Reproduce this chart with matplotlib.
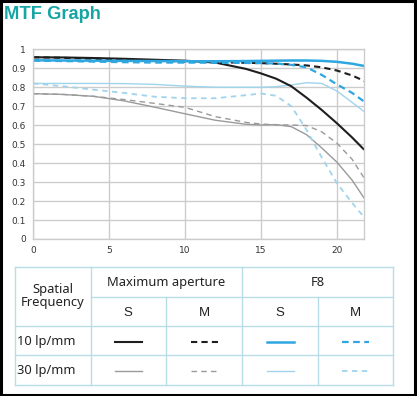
import matplotlib
matplotlib.use("Agg")
import matplotlib.pyplot as plt
from matplotlib.lines import Line2D
from matplotlib.patches import Rectangle

# ---------------- data ----------------
x_mm = [0, 2, 4, 6, 8, 10, 12, 14, 15, 16, 17, 18, 19, 20, 21, 21.8]

max_s10 = [0.958, 0.957, 0.954, 0.950, 0.945, 0.940, 0.930, 0.897, 0.873, 0.845, 0.805, 0.745, 0.680, 0.610, 0.535, 0.470]
max_m10 = [0.958, 0.955, 0.950, 0.945, 0.940, 0.935, 0.932, 0.929, 0.927, 0.924, 0.920, 0.915, 0.905, 0.888, 0.862, 0.833]
f8_s10 = [0.942, 0.941, 0.940, 0.939, 0.938, 0.937, 0.937, 0.938, 0.939, 0.940, 0.941, 0.941, 0.939, 0.934, 0.924, 0.912]
f8_m10 = [0.940, 0.938, 0.935, 0.932, 0.930, 0.930, 0.929, 0.928, 0.927, 0.925, 0.918, 0.905, 0.865, 0.815, 0.770, 0.724]

max_s30 = [0.766, 0.762, 0.752, 0.728, 0.695, 0.660, 0.626, 0.605, 0.601, 0.603, 0.592, 0.550, 0.480, 0.405, 0.310, 0.214]
max_m30 = [0.766, 0.762, 0.752, 0.735, 0.715, 0.694, 0.645, 0.615, 0.606, 0.602, 0.601, 0.598, 0.565, 0.505, 0.420, 0.320]
f8_s30 = [0.820, 0.820, 0.820, 0.819, 0.815, 0.806, 0.800, 0.800, 0.800, 0.803, 0.812, 0.824, 0.820, 0.780, 0.720, 0.671]
f8_m30 = [0.820, 0.805, 0.787, 0.770, 0.750, 0.742, 0.742, 0.758, 0.767, 0.755, 0.700, 0.575, 0.430, 0.294, 0.190, 0.114]

x_ticks = [0, 5, 10, 15, 20]
y_ticks = [0, 0.1, 0.2, 0.3, 0.4, 0.5, 0.6, 0.7, 0.8, 0.9, 1]
y_tick_labels = ["0", "0.1", "0.2", "0.3", "0.4", "0.5", "0.6", "0.7", "0.8", "0.9", "1"]

title = "MTF Graph"
row_header = "Spatial\nFrequency"
group_labels = ["Maximum aperture", "F8"]
sub_labels = ["S", "M", "S", "M"]
row_labels = ["10 lp/mm", "30 lp/mm"]

# ---------------- styles ----------------
BLACK = "#1e1e1e"
GRAY = "#9a9a9a"
BLUE = "#2ea6e0"
LBLUE = "#9fd4ec"

series = [
    (max_s10, BLACK, "-", 1.5),
    (max_m10, BLACK, (0, (3, 2)), 1.5),
    (f8_s10, BLUE, "-", 1.8),
    (f8_m10, BLUE, (0, (3, 2)), 1.6),
    (max_s30, GRAY, "-", 1.0),
    (max_m30, GRAY, (0, (4, 3)), 1.0),
    (f8_s30, LBLUE, "-", 1.0),
    (f8_m30, LBLUE, (0, (3, 2.5)), 1.3),
]

W, H = 417, 396
fig = plt.figure(figsize=(W / 100, H / 100), dpi=100)
fig.patch.set_facecolor("white")

# chart axes (pixel box: left 33, right 364, top 49, bottom 239)
L, R, T, B = 33, 364.3, 49.3, 239
ax = fig.add_axes([L / W, (H - B) / H, (R - L) / W, (B - T) / H])
for ys, c, ls, lw in [s for s in series[4:]] + [s for s in series[:4]]:
    ax.plot(x_mm, ys, color=c, linestyle=ls, linewidth=lw, solid_capstyle="butt")
ax.set_xlim(0, 21.8)
ax.set_ylim(0, 1)
ax.set_xticks(x_ticks)
ax.set_yticks(y_ticks)
ax.set_yticklabels(y_tick_labels)
ax.grid(True, color="#cccccc", linewidth=1.0)
ax.set_axisbelow(True)
for sp in ax.spines.values():
    sp.set_color("#cccccc")
    sp.set_linewidth(1.0)
ax.tick_params(length=0, labelsize=6.5, labelcolor="#333333", pad=5)

# overlay axes in pixel coordinates for title, table and frame
ov = fig.add_axes([0, 0, 1, 1])
ov.set_xlim(0, W)
ov.set_ylim(H, 0)
ov.axis("off")
ov.patch.set_alpha(0)

ov.text(4, 19, title, fontsize=13.2, fontweight="bold", color="#16a5a5",
        family="Liberation Sans", ha="left", va="baseline")

# table grid
TC = "#b8dde6"
tl, tr, tt, tb = 15, 393, 266.7, 385
c1, c2, c3, c4 = 90.7, 166, 242.3, 318.3
r1, r2, r3 = 296.7, 326, 355
tlw = 1.0
segs = [
    ((tl, tr), (tt, tt)), ((tl, tr), (tb, tb)), ((tl, tl), (tt, tb)), ((tr, tr), (tt, tb)),
    ((c1, tr), (r1, r1)), ((tl, tr), (r2, r2)), ((tl, tr), (r3, r3)),
    ((c1, c1), (tt, tb)), ((c3, c3), (tt, tb)),
    ((c2, c2), (r1, tb)), ((c4, c4), (r1, tb)),
]
for xs, ys in segs:
    ov.add_line(Line2D(xs, ys, color=TC, linewidth=tlw))

TF = ["Noto Sans", "DejaVu Sans"]
ov.text((tl + c1) / 2, 296, row_header, ha="center", va="center", fontsize=9.3,
        family=TF, color="#222222", linespacing=1.05)
ov.text((c1 + c3) / 2, 282.7, group_labels[0], ha="center", va="center", fontsize=9.3,
        family=TF, color="#222222")
ov.text((c3 + tr) / 2, 282.7, group_labels[1], ha="center", va="center", fontsize=9.3,
        family=TF, color="#222222")
centers = [(c1 + c2) / 2, (c2 + c3) / 2, (c3 + c4) / 2, (c4 + tr) / 2]
for cx, lab in zip(centers, sub_labels):
    ov.text(cx, 312.5, lab, ha="center", va="center", fontsize=9.5,
            family="Liberation Sans", color="#222222")
row_y = [341.5, 370.5]
for ry, lab in zip(row_y, row_labels):
    ov.text(17, ry, lab, ha="left", va="center", fontsize=9.3, family=TF, color="#222222")

# legend samples
for i, (ys, c, ls, lw) in enumerate(series):
    row = 0 if i < 4 else 1
    col = i % 4
    cx = centers[col]
    ov.add_line(Line2D([cx - 13.5, cx + 13.5], [row_y[row], row_y[row]], color=c,
                       linestyle=ls, linewidth=lw))

# outer frame
ov.add_patch(Rectangle((0.5, 0.5), W - 2, H - 2, fill=False, edgecolor="black", linewidth=2.2))

fig.savefig("out.png", dpi=100)
